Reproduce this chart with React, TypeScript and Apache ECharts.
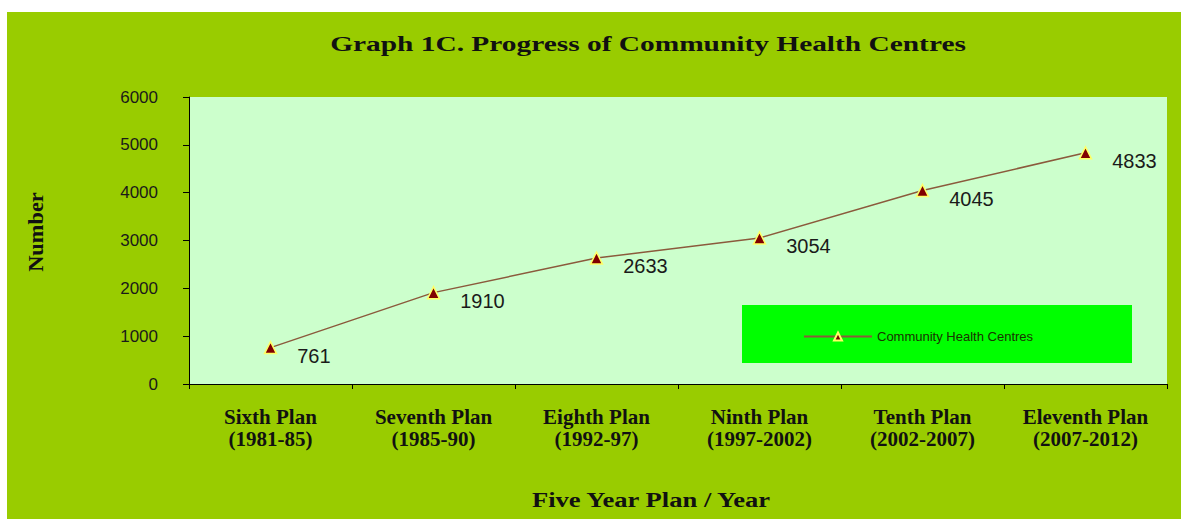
import React, { useEffect, useRef } from "react";
import * as echarts from "echarts";

const categories = [
  "Sixth Plan\n(1981-85)",
  "Seventh Plan\n(1985-90)",
  "Eighth Plan\n(1992-97)",
  "Ninth Plan\n(1997-2002)",
  "Tenth Plan\n(2002-2007)",
  "Eleventh Plan\n(2007-2012)",
];
const chcValues = [761, 1910, 2633, 3054, 4045, 4833];
const seriesName = "Community Health Centres";
const titleText = "Graph 1C. Progress of Community Health Centres";
const yAxisName = "Number";
const xAxisName = "Five Year Plan / Year";

export default function App() {
  const ref = useRef<HTMLDivElement>(null);
  useEffect(() => {
    if (!ref.current) return;
    const chart = echarts.init(ref.current, undefined, { renderer: "svg" });
    const serif = "'Liberation Serif', 'DejaVu Serif', serif";
    const sans = "'Liberation Sans', Arial, sans-serif";
    chart.setOption({
      animation: false,
      backgroundColor: "#ffffff",
      graphic: [
        {
          type: "rect",
          z: -10,
          shape: { x: 7, y: 12, width: 1174, height: 507 },
          style: { fill: "#99cc00" },
        },
        {
          type: "text",
          x: 648,
          y: 44,
          scaleX: 1.4,
          style: {
            text: titleText,
            font: `bold 21px ${serif}`,
            fill: "#111111",
            align: "center",
            verticalAlign: "middle",
          },
        },
        {
          type: "text",
          x: 651,
          y: 500,
          scaleX: 1.33,
          style: {
            text: xAxisName,
            font: `bold 20px ${serif}`,
            fill: "#111111",
            align: "center",
            verticalAlign: "middle",
          },
        },
        {
          type: "text",
          x: 36,
          y: 232,
          rotation: Math.PI / 2,
          scaleX: 1.12,
          style: {
            text: yAxisName,
            font: `bold 20px ${serif}`,
            fill: "#111111",
            align: "center",
            verticalAlign: "middle",
          },
        },
        {
          type: "rect",
          z: 5,
          shape: { x: 742, y: 305, width: 390, height: 58 },
          style: { fill: "#00ff00" },
        },
      ],
      legend: {
        show: true,
        z: 10,
        left: 798,
        top: 325,
        itemWidth: 68,
        itemHeight: 10,
        itemGap: 10,
        textStyle: { fontFamily: sans, fontSize: 13, color: "#1a3300" },
        data: [seriesName],
      },
      grid: {
        left: 189,
        top: 97,
        right: 14,
        bottom: 135,
        show: true,
        backgroundColor: "#ccffcc",
        borderWidth: 0,
      },
      xAxis: {
        type: "category",
        data: categories,
        axisLine: { show: true, lineStyle: { color: "#000", width: 1 } },
        axisTick: { show: true, length: 5, lineStyle: { color: "#000" } },
        axisLabel: {
          fontFamily: serif,
          fontWeight: "bold",
          fontSize: 21,
          color: "#111111",
          margin: 22,
          lineHeight: 22,
          interval: 0,
        },
      },
      yAxis: {
        type: "value",
        min: 0,
        max: 6000,
        interval: 1000,
        splitLine: { show: false },
        axisLine: { show: true, lineStyle: { color: "#000", width: 1 } },
        axisTick: { show: true, length: 6, lineStyle: { color: "#000" } },
        axisLabel: {
          fontFamily: sans,
          fontSize: 17,
          color: "#1a1a1a",
          margin: 31,
          formatter: (v: number) => String(v),
        },
      },
      series: [
        {
          name: seriesName,
          type: "line",
          data: chcValues,
          symbol: "triangle",
          symbolSize: 12,
          lineStyle: { color: "#8b5a3c", width: 1.5 },
          itemStyle: { color: "#800000", borderColor: "#ffff66", borderWidth: 1.5 },
          label: {
            show: true,
            position: "right",
            distance: 20,
            offset: [0, 8],
            fontFamily: sans,
            fontSize: 20,
            color: "#1a1a1a",
          },
        },
      ],
    });
    return () => chart.dispose();
  }, []);
  return (
    <div
      ref={ref}
      style={{ position: "fixed", left: 0, top: 0, width: 1181, height: 519 }}
    />
  );
}
